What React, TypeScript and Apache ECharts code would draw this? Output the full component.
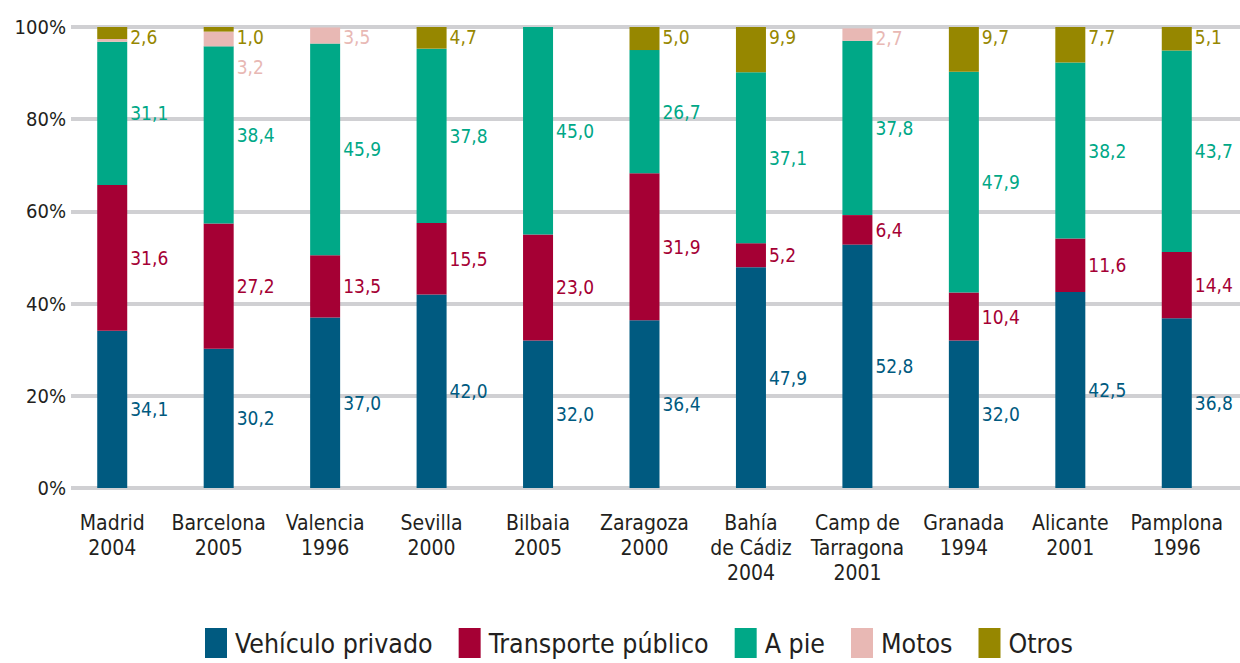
import React, { useEffect, useRef } from "react";
import * as echarts from "echarts";

const categories = [
  "Madrid\n2004",
  "Barcelona\n2005",
  "Valencia\n1996",
  "Sevilla\n2000",
  "Bilbaia\n2005",
  "Zaragoza\n2000",
  "Bahía\nde Cádiz\n2004",
  "Camp de\nTarragona\n2001",
  "Granada\n1994",
  "Alicante\n2001",
  "Pamplona\n1996",
];
const seriesNames = ["Vehículo privado", "Transporte público", "A pie", "Motos", "Otros"];
const vehiculo = [34.1, 30.2, 37.0, 42.0, 32.0, 36.4, 47.9, 52.8, 32.0, 42.5, 36.8];
const transporte = [31.6, 27.2, 13.5, 15.5, 23.0, 31.9, 5.2, 6.4, 10.4, 11.6, 14.4];
const aPie = [31.1, 38.4, 45.9, 37.8, 45.0, 26.7, 37.1, 37.8, 47.9, 38.2, 43.7];
const motos = [0.6, 3.2, 3.5, null, null, null, null, 2.7, null, null, null];
const otros = [2.6, 1.0, null, 4.7, null, 5.0, 9.9, null, 9.7, 7.7, 5.1];
const motosLabelShown = [false, true, true, false, false, false, false, true, false, false, false];
const yTicks = [0, 20, 40, 60, 80, 100];

const COLORS = ["#005a80", "#a50034", "#00a887", "#e8b8b4", "#968700"];
const FONT = '"Liberation Sans Narrow", "DejaVu Sans Condensed", sans-serif';
const TEXT = "#231f20";

const fmt = (p: any) => {
  const v = Array.isArray(p.value) ? p.value[1] : p.value;
  if (v === null || v === undefined) return "";
  return Number(v).toFixed(1).replace(".", ",");
};

export default function App() {
  const ref = useRef<HTMLDivElement>(null);
  useEffect(() => {
    if (!ref.current) return;
    const chart = echarts.init(ref.current, undefined, { renderer: "svg" });
    const labelBase = {
      show: true,
      fontFamily: FONT,
      fontSize: 19,
      formatter: fmt,
    };
    const sideLabel = (c: string) => ({ ...labelBase, position: "right", distance: 3, color: c });
    const topLabel = (c: string) => ({
      ...labelBase,
      position: [33, 10],
      align: "left",
      verticalAlign: "middle",
      color: c,
    });
    const motosData = motos.map((v, i) => {
      if (v === null) return null;
      if (!motosLabelShown[i]) return { value: v, label: { show: false } };
      if (i === 1) return { value: v, label: { position: [33, 35] } };
      return v;
    });
    const mk = (name: string, data: any[], color: string, label: any) => ({
      name,
      type: "bar",
      stack: "total",
      xAxisIndex: 0,
      yAxisIndex: 0,
      barWidth: 30,
      data,
      itemStyle: { color },
      label,
      emphasis: { disabled: true },
    });
    chart.setOption({
      animation: false,
      grid: [
        { left: 59, right: 10, top: 27, bottom: 175 },
        { left: 71, right: 0, top: 27, bottom: 175 },
      ],
      legend: {
        data: seriesNames,
        left: 200,
        top: 623,
        itemWidth: 22,
        itemHeight: 30,
        itemGap: 26,
        icon: "rect",
        textStyle: { fontFamily: FONT, fontSize: 26.5, color: TEXT, padding: [0, 0, 0, 3] },
      },
      xAxis: [
        {
          type: "category",
          gridIndex: 0,
          data: categories,
          axisLine: { show: false },
          axisTick: { show: false },
          axisLabel: {
            fontFamily: FONT,
            fontSize: 21,
            lineHeight: 25,
            color: TEXT,
            margin: 22,
            interval: 0,
          },
        },
        { type: "value", gridIndex: 1, show: false, min: 0, max: 1 },
      ],
      yAxis: [
        { type: "value", gridIndex: 0, min: 0, max: 100, interval: 20, show: false },
        {
          type: "value",
          gridIndex: 1,
          min: yTicks[0],
          max: yTicks[yTicks.length - 1],
          interval: 20,
          axisLine: { show: false },
          axisTick: { show: false },
          axisLabel: {
            formatter: "{value}%",
            fontFamily: FONT,
            fontSize: 20,
            color: TEXT,
            margin: 5,
          },
          splitLine: { lineStyle: { color: "#d0d0d3", width: 4 } },
        },
      ],
      series: [
        mk(seriesNames[0], vehiculo, COLORS[0], sideLabel(COLORS[0])),
        mk(seriesNames[1], transporte, COLORS[1], sideLabel(COLORS[1])),
        mk(seriesNames[2], aPie, COLORS[2], sideLabel(COLORS[2])),
        mk(seriesNames[3], motosData, COLORS[3], topLabel(COLORS[3])),
        mk(seriesNames[4], otros, COLORS[4], topLabel(COLORS[4])),
      ],
    });
    return () => chart.dispose();
  }, []);
  return (
    <div
      ref={ref}
      style={{ position: "fixed", left: 0, top: 0, width: 1240, height: 663, background: "#fff" }}
    />
  );
}
